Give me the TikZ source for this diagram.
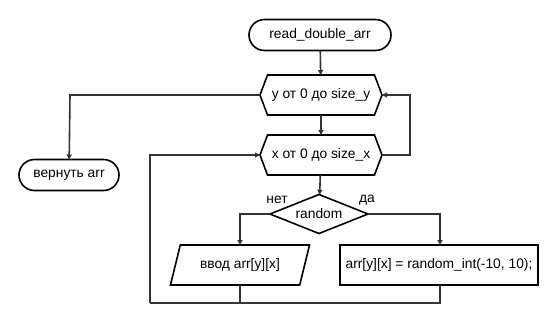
\documentclass[tikz,border=0pt]{standalone}
\usepackage{fontspec}
\setmainfont{Liberation Sans}
\usetikzlibrary{shapes.geometric,shapes.misc,arrows.meta}
\begin{document}
\begin{tikzpicture}[x=1pt,y=-1pt,
  font=\fontsize{13.8}{16}\selectfont,
  shapebase/.style={draw=black,line width=1.6pt,inner sep=0pt,outer sep=0pt,anchor=center},
  termbox/.style={shapebase,rounded rectangle,minimum height=31pt},
  loopbox/.style={shapebase,draw=none,rectangle,minimum width=122pt,minimum height=40pt},
  hexline/.style={draw=black,line width=1.6pt,line join=miter},
  decbox/.style={shapebase,diamond,aspect=2.5,minimum width=98pt,minimum height=39pt},
  iobox/.style={shapebase,trapezium,trapezium left angle=63,trapezium right angle=117,
     trapezium stretches=true,minimum width=140pt,minimum height=40pt},
  procbox/.style={shapebase,rectangle,minimum width=198pt,minimum height=40pt},
  conn/.style={draw=black!80,line width=1.6pt},
  arr/.style={conn,-{Triangle[length=5pt,width=5pt]}},
  lbl/.style={inner sep=0pt}]
\useasboundingbox (0,0) rectangle (560,325);

\node[termbox,minimum width=142pt] (start) at (320,35) {read\_double\_arr};
\node[loopbox] (ly) at (321,95) {y от 0 до size\_y};
\node[loopbox] (lx) at (321,155) {x от 0 до size\_x};
\node[termbox,minimum width=100pt] (ret) at (69,175) {вернуть arr};
\node[decbox] (rnd) at (319,214) {random};
\node[iobox] (inp) at (240,265) {ввод arr[y][x]};
\node[procbox] (gen) at (439,265) {arr[y][x] = random\_int(-10, 10);};

% hexagonal outlines of the two loop headers
\foreach \h in {ly,lx}
  \draw[hexline] (\h.west) -- ([xshift=7.5pt]\h.north west) -- ([xshift=-7.5pt]\h.north east)
    -- (\h.east) -- ([xshift=-7.5pt]\h.south east) -- ([xshift=7.5pt]\h.south west) -- cycle;

\node[lbl] (no) at (277,200) {нет};
\node[lbl] (yes) at (367,200) {да};

\coordinate (ybend) at (70,95);
\coordinate (xright) at (410,155);
\coordinate (xloop) at (150,155);
\coordinate (nobend) at (240,214);
\coordinate (yesbend) at (440,214);
\coordinate (joinL) at (150,303);

\draw[arr] (start) -- (ly);
\draw[arr] (ly) -- (lx);
\draw[arr] (ly.west) -- (ybend) -- (ret);
\draw[arr] (lx.east) -- (xright) |- (ly.east);
\draw[arr] (lx) -- (rnd);
\draw[arr] (rnd.west) -- (nobend) -- (inp);
\draw[arr] (rnd.east) -- (yesbend) -- (gen.north -| yesbend);
\draw[conn] (inp.south) |- (joinL);
\draw[conn] (gen.south -| yesbend) |- (joinL);
\draw[arr] (joinL) -- (xloop) -- (lx.west);
\end{tikzpicture}
\end{document}
